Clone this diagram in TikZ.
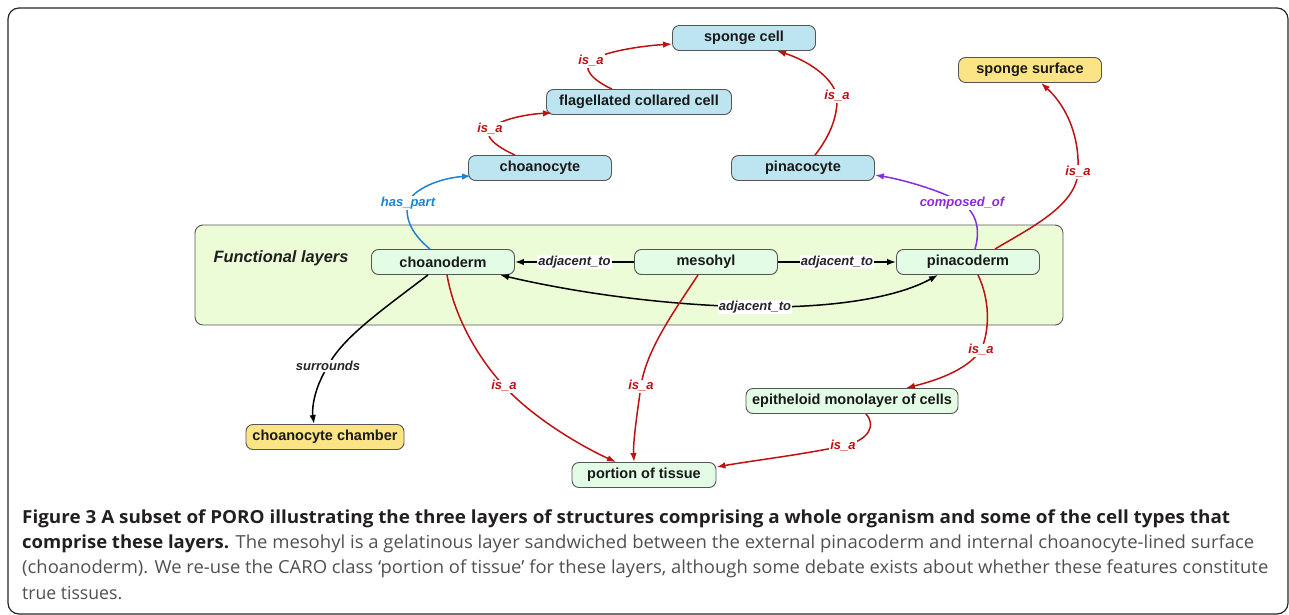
\documentclass[tikz,border=0pt]{standalone}
\usepackage{fontspec}
\usepackage{graphicx}
\setmainfont{Liberation Sans}
\newfontfamily\capfont{Open Sans}
\usetikzlibrary{arrows.meta}
\definecolor{cellblue}{HTML}{BDE4F1}
\definecolor{yelfill}{HTML}{FBE485}
\definecolor{mintfill}{HTML}{E2FCE6}
\definecolor{layerfill}{HTML}{EBFCD6}
\definecolor{nodeborder}{HTML}{555555}
\definecolor{isared}{HTML}{BE1212}
\definecolor{partblue}{HTML}{1E84CF}
\definecolor{comppurple}{HTML}{8A2BE2}
\definecolor{capdark}{HTML}{231F20}
\definecolor{capgray}{HTML}{505050}
\tikzset{
  box/.style={draw=nodeborder, line width=0.9pt, rounded corners=7pt,
    minimum height=25pt, minimum width=143pt, inner xsep=10pt,
    font=\fontsize{14.5}{16}\selectfont\bfseries, text=black!90},
  cellbox/.style={box, fill=cellblue},
  yelbox/.style={box, fill=yelfill},
  mintbox/.style={box, fill=mintfill},
  rel/.style={line width=1.5pt, -{Latex[length=9pt,width=6.5pt]}},
  lab/.style={fill=white, inner sep=1pt, font=\fontsize{13}{14}\selectfont\bfseries\itshape},
  isa/.style={rel, draw=isared},
  isalab/.style={lab, text=isared},
  adj/.style={rel, draw=black},
  adjlab/.style={lab, text=black!85},
  caplinebold/.style={anchor=base west, inner sep=0pt},
}
\begin{document}
\begin{tikzpicture}[x=1pt,y=-1pt]
\useasboundingbox (0,0) rectangle (1289,615);
\begin{scope}
\clip (0,0) rectangle (1289,615);
\draw[line width=1.2pt, draw=black!85, rounded corners=11pt] (8,8) rectangle (1288,614);
\end{scope}

% functional layers container
\node[draw=nodeborder, line width=0.9pt, fill=layerfill, rounded corners=8pt,
      minimum width=868pt, minimum height=100pt, inner sep=0pt] (layers) at (629,275) {};
\node[font=\fontsize{16.4}{18}\selectfont\bfseries\itshape, text=black!88] (layerlab) at (281,258) {Functional layers};

% nodes
\node[cellbox] (sponge) at (744,38) {sponge cell};
\node[cellbox, minimum width=185pt] (flag) at (639,102) {flagellated collared cell};
\node[cellbox] (choanocyte) at (540,168) {choanocyte};
\node[cellbox] (pinacocyte) at (803,168) {pinacocyte};
\node[yelbox] (surface) at (1030,70) {sponge surface};
\node[mintbox] (choanoderm) at (443,262) {choanoderm};
\node[mintbox] (mesohyl) at (706,262) {mesohyl};
\node[mintbox] (pinacoderm) at (968,262) {pinacoderm};
\node[yelbox, minimum width=158pt, inner xsep=6pt] (chamber) at (325,437) {choanocyte chamber};
\node[mintbox, minimum width=212pt, inner xsep=6pt] (epith) at (852,401) {epitheloid monolayer of cells};
\node[mintbox, minimum width=144pt] (portion) at (644,475) {portion of tissue};

% edges
\draw[isa] ([xshift=-27pt]flag.north) .. controls (592,80) and (582,68) .. (591,61)
  node[isalab] {is\_a} .. controls (602,52) and (640,46) .. ([yshift=-6pt]sponge.west);
\draw[isa] ([xshift=-25pt]choanocyte.north) .. controls (495,146) and (484,136) .. (490,129)
  node[isalab] {is\_a} .. controls (500,119) and (528,114) .. ([xshift=6pt,yshift=2pt]flag.south west);
\draw[isa] ([xshift=12pt]pinacocyte.north) .. controls (830,136) and (838,116) .. (837,96)
  node[isalab] {is\_a} .. controls (832,76) and (806,60) .. ([xshift=33pt]sponge.south);
\draw[rel, draw=partblue] ([xshift=-13pt]choanoderm.north) .. controls (414,236) and (404,220) .. (408,203)
  node[lab, text=partblue] {has\_part} .. controls (413,189) and (440,178) .. ([xshift=3pt,yshift=5pt]choanocyte.south west);
\draw[rel, draw=comppurple] ([xshift=7pt]pinacoderm.north) .. controls (980,232) and (978,214) .. (962,203)
  node[lab, text=comppurple] {composed\_of} .. controls (945,192) and (905,180) .. ([yshift=-7pt]pinacocyte.east);
\draw[isa] ([xshift=27pt]pinacoderm.north) .. controls (1030,228) and (1076,206) .. (1078,172)
  node[isalab] {is\_a} .. controls (1080,130) and (1062,102) .. ([xshift=11pt]surface.south);
\draw[adj] (mesohyl.west) -- node[adjlab] {adjacent\_to} (choanoderm.east);
\draw[adj] (mesohyl.east) -- node[adjlab] {adjacent\_to} (pinacoderm.west);
\draw[adj, {Latex[length=9pt,width=6.5pt]}-{Latex[length=9pt,width=6.5pt]}]
  ([xshift=57pt]choanoderm.south) .. controls (560,289) and (650,305) .. (755,307)
  node[adjlab] {adjacent\_to} .. controls (840,308) and (900,296) .. ([xshift=-30pt]pinacoderm.south);
\draw[adj] ([xshift=-15pt]choanoderm.south) .. controls (382,310) and (342,338) .. (328,366)
  node[adjlab] {surrounds} .. controls (313,390) and (312,410) .. ([xshift=-11pt]chamber.north);
\draw[isa] ([xshift=4pt]choanoderm.south) .. controls (455,320) and (480,360) .. (504,386)
  node[isalab] {is\_a} .. controls (535,420) and (585,448) .. ([xshift=-28pt]portion.north);
\draw[isa] ([xshift=-8pt]mesohyl.south) .. controls (675,310) and (646,350) .. (641,386)
  node[isalab] {is\_a} .. controls (636,420) and (633,445) .. ([xshift=-10pt]portion.north);
\draw[isa] ([xshift=10pt]pinacoderm.south) .. controls (990,300) and (990,330) .. (981,350)
  node[isalab] {is\_a} .. controls (966,372) and (930,382) .. ([xshift=54pt]epith.north);
\draw[isa] ([xshift=14pt]epith.south) .. controls (876,425) and (870,440) .. (843,446)
  node[isalab] {is\_a} .. controls (800,455) and (750,461) .. ([yshift=8pt]portion.east);

% caption
\node[caplinebold] (cap1) at (22,523) {\resizebox{1208pt}{\height}{\capfont\fontsize{18}{20}\selectfont\bfseries\color{capdark}Figure 3 A subset of PORO illustrating the three layers of structures comprising a whole organism and some of the cell types that}};
\node[caplinebold] (cap2) at (22,548) {\resizebox{1232pt}{\height}{\capfont\fontsize{18}{20}\selectfont{\bfseries\color{capdark}comprise these layers.} {\color{capgray}The mesohyl is a gelatinous layer sandwiched between the external pinacoderm and internal choanocyte-lined surface}}};
\node[caplinebold] (cap3) at (22,573) {\resizebox{1246pt}{\height}{\capfont\fontsize{18}{20}\selectfont\color{capgray}(choanoderm). We re-use the CARO class ‘portion of tissue’ for these layers, although some debate exists about whether these features constitute}};
\node[caplinebold] (cap4) at (22,599) {\resizebox{100pt}{\height}{\capfont\fontsize{18}{20}\selectfont\color{capgray}true tissues.}};
\end{tikzpicture}
\end{document}
